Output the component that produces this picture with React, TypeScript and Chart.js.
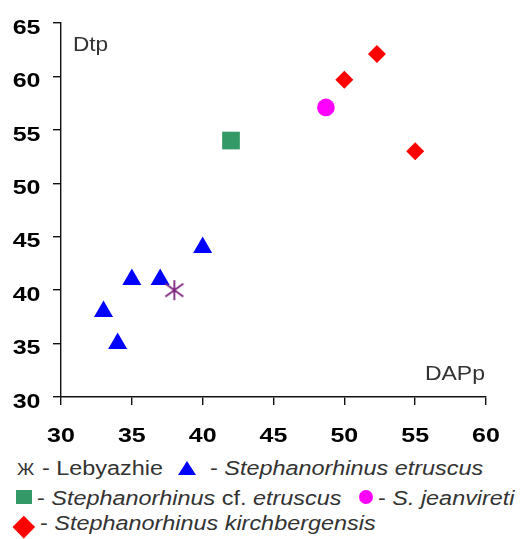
import React, { useEffect, useRef } from "react";
import { Chart, registerables } from "chart.js";
Chart.register(...registerables);

// ---- data ----
const lebyazhieX = [38];
const lebyazhieY = [40];
const etruscusX = [33, 34, 35, 37, 40];
const etruscusY = [38, 35, 41, 41, 44];
const cfEtruscusX = [42];
const cfEtruscusY = [54];
const jeanviretiX = [48.7];
const jeanviretiY = [57.1];
const kirchbergensisX = [50, 52.3, 55];
const kirchbergensisY = [59.7, 62.1, 53];

const xMin = 30, xMax = 60, yMin = 30, yMax = 65, tickStep = 5;
const xTitle = "DAPp";
const yTitle = "Dtp";

const pts = (xs: number[], ys: number[]) => xs.map((x, i) => ({ x, y: ys[i] }));

const FONT = '"Liberation Sans", Arial, sans-serif';
const STRETCH = 1.17;
const CANVAS_H = 450;
const PLOT_BOTTOM = 397;

function makeStar(color: string) {
  const c = document.createElement("canvas");
  c.width = 22;
  c.height = 22;
  const g = c.getContext("2d")!;
  g.strokeStyle = color;
  g.lineWidth = 1.8;
  g.beginPath();
  g.moveTo(11, 1);
  g.lineTo(11, 21);
  g.moveTo(2, 4.5);
  g.lineTo(20, 17.5);
  g.moveTo(2, 17.5);
  g.lineTo(20, 4.5);
  g.stroke();
  return c;
}

// draws tick labels (from the library's ticks) with a slight horizontal stretch
const tickLabelsPlugin = {
  id: "tickLabels",
  afterDraw(chart: any) {
    const { ctx } = chart;
    const xs = chart.scales.x;
    const ys = chart.scales.y;
    ctx.save();
    ctx.font = `bold 21px ${FONT}`;
    ctx.fillStyle = "#000";
    ctx.textBaseline = "alphabetic";
    for (const t of xs.ticks) {
      const px = xs.getPixelForValue(t.value);
      ctx.save();
      ctx.translate(px, xs.top + 45);
      ctx.scale(1.19, 1);
      ctx.textAlign = "center";
      ctx.fillText(String(t.label), 0, 0);
      ctx.restore();
    }
    for (const t of ys.ticks) {
      const py = ys.getPixelForValue(t.value);
      ctx.save();
      ctx.translate(ys.right - 20.5, py + 10.7);
      ctx.scale(1.19, 1);
      ctx.textAlign = "right";
      ctx.fillText(String(t.label), 0, 0);
      ctx.restore();
    }
    ctx.restore();
  },
};

const titlesPlugin = {
  id: "axisTitles",
  afterDraw(chart: any) {
    const { ctx, chartArea } = chart;
    ctx.save();
    ctx.font = `20px ${FONT}`;
    ctx.fillStyle = "#333";
    ctx.textBaseline = "alphabetic";
    ctx.save();
    ctx.translate(chartArea.left + 12, chartArea.top + 28);
    ctx.scale(1.13, 1);
    ctx.textAlign = "left";
    ctx.fillText(yTitle, 0, 0);
    ctx.restore();
    ctx.save();
    ctx.translate(chartArea.right - 1, chartArea.bottom - 17);
    ctx.scale(1.15, 1);
    ctx.textAlign = "right";
    ctx.fillText(xTitle, 0, 0);
    ctx.restore();
    ctx.restore();
  },
};

function ChartCanvas() {
  const ref = useRef<HTMLCanvasElement>(null);
  useEffect(() => {
    if (!ref.current) return;
    const axisCommon = {
      type: "linear" as const,
      grid: {
        drawOnChartArea: false,
        drawTicks: true,
        tickLength: 8,
        color: "#111",
        lineWidth: 1.4,
      },
      border: { color: "#111", width: 1.4 },
    };
    const chart = new Chart(ref.current, {
      type: "scatter",
      data: {
        datasets: [
          {
            label: "Lebyazhie",
            data: pts(lebyazhieX, lebyazhieY),
            pointStyle: makeStar("#7E2480") as any,
            pointRadius: 10,
            backgroundColor: "#7E2480",
            borderColor: "#7E2480",
          },
          {
            label: "Stephanorhinus etruscus",
            data: pts(etruscusX, etruscusY),
            pointStyle: "triangle",
            pointRadius: 11,
            backgroundColor: "#0000FF",
            borderColor: "#0000FF",
            borderWidth: 0,
          },
          {
            label: "Stephanorhinus cf. etruscus",
            data: pts(cfEtruscusX, cfEtruscusY),
            pointStyle: "rect",
            pointRadius: 12.5,
            backgroundColor: "#339966",
            borderColor: "#339966",
            borderWidth: 0,
          },
          {
            label: "S. jeanvireti",
            data: pts(jeanviretiX, jeanviretiY),
            pointStyle: "circle",
            pointRadius: 8.8,
            backgroundColor: "#FF00FF",
            borderColor: "#FF00FF",
            borderWidth: 0,
          },
          {
            label: "Stephanorhinus kirchbergensis",
            data: pts(kirchbergensisX, kirchbergensisY),
            pointStyle: "rectRot",
            pointRadius: 9,
            backgroundColor: "#FF0000",
            borderColor: "#FF0000",
            borderWidth: 0,
          },
        ],
      },
      options: {
        animation: false,
        responsive: false,
        devicePixelRatio: 1,
        layout: { padding: { top: 23, right: 42, left: 0, bottom: 0 } },
        plugins: { legend: { display: false }, tooltip: { enabled: false } },
        scales: {
          x: {
            ...axisCommon,
            min: xMin,
            max: xMax,
            ticks: { stepSize: tickStep, display: false },
            afterFit: (s: any) => {
              s.height = CANVAS_H - PLOT_BOTTOM;
            },
          },
          y: {
            ...axisCommon,
            min: yMin,
            max: yMax,
            ticks: { stepSize: tickStep, display: false },
            afterFit: (s: any) => {
              s.width = 61;
            },
          },
        },
      } as any,
      plugins: [tickLabelsPlugin, titlesPlugin],
    });
    return () => chart.destroy();
  }, []);
  return (
    <canvas ref={ref} width={528} height={CANVAS_H} style={{ position: "absolute", left: 0, top: 0 }} />
  );
}

const textStyle = (left: number, baseline: number, size = 20, stretch = STRETCH): React.CSSProperties => ({
  position: "absolute",
  left,
  top: baseline - Math.round(size * 0.85),
  fontFamily: FONT,
  fontSize: size,
  lineHeight: `${size}px`,
  color: "#333",
  whiteSpace: "nowrap",
  transform: `scaleX(${stretch})`,
  transformOrigin: "left top",
});

export default function App() {
  return (
    <div
      style={{
        position: "fixed",
        left: 0,
        top: 0,
        width: 528,
        height: 539,
        overflow: "hidden",
        background: "#fff",
      }}
    >
      <ChartCanvas />
      {/* legend line 1 */}
      <div style={textStyle(17, 475, 17, 1.1)}>Ж</div>
      <div style={textStyle(42, 475)}>- Lebyazhie</div>
      <div
        style={{
          position: "absolute",
          left: 178,
          top: 460.5,
          width: 0,
          height: 0,
          borderLeft: "9.5px solid transparent",
          borderRight: "9.5px solid transparent",
          borderBottom: "14px solid #0000FF",
        }}
      />
      <div style={textStyle(210, 475)}>
        - <i>Stephanorhinus etruscus</i>
      </div>
      {/* legend line 2 */}
      <div
        style={{ position: "absolute", left: 16, top: 490, width: 16, height: 14, background: "#339966" }}
      />
      <div style={textStyle(37, 505)}>
        - <i>Stephanorhinus</i> cf. <i>etruscus</i>
      </div>
      <div
        style={{
          position: "absolute",
          left: 359,
          top: 490,
          width: 14,
          height: 14,
          borderRadius: "50%",
          background: "#FF00FF",
        }}
      />
      <div style={textStyle(378, 505)}>
        - <i>S. jeanvireti</i>
      </div>
      {/* legend line 3 */}
      <div
        style={{
          position: "absolute",
          left: 16.2,
          top: 519.2,
          width: 15.6,
          height: 15.6,
          background: "#FF0000",
          transform: "rotate(45deg)",
        }}
      />
      <div style={textStyle(40, 530)}>
        - <i>Stephanorhinus kirchbergensis</i>
      </div>
    </div>
  );
}
